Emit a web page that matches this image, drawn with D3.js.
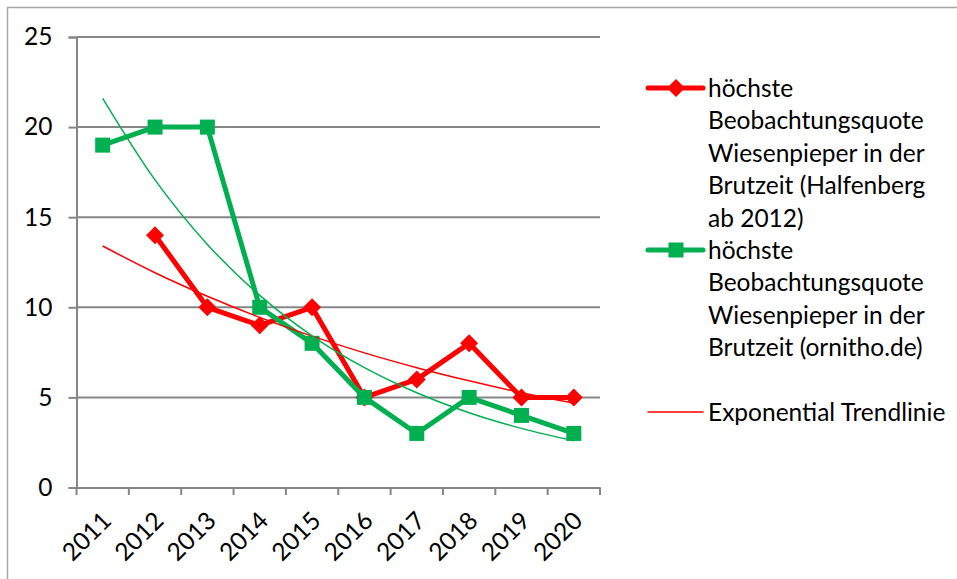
<!DOCTYPE html>
<html><head><meta charset="utf-8">
<script src="https://cdn.jsdelivr.net/npm/d3@7"></script>
<style>body{margin:0;background:#fff}svg{display:block}text{font-family:Lato,"Open Sans",sans-serif;fill:#000}</style>
</head><body><svg id="c" width="957" height="579"></svg>
<script>
const years = ["2011","2012","2013","2014","2015","2016","2017","2018","2019","2020"];
const halfenberg = [null,14,10,9,10,5,6,8,5,5];
const ornitho = [19,20,20,10,8,5,3,5,4,3];
// trendline values at each category
const trendHalfenberg = [13.4,11.92,10.61,9.44,8.40,7.47,6.65,5.92,5.26,4.68];
const trendOrnitho = [21.6,17.07,13.49,10.66,8.42,6.65,5.26,4.15,3.28,2.59];
const yTicks = [0,5,10,15,20,25];
const legendHalf = ["höchste","Beobachtungsquote","Wiesenpieper in der","Brutzeit (Halfenberg","ab 2012)"];
const legendOrn = ["höchste","Beobachtungsquote","Wiesenpieper in der","Brutzeit (ornitho.de)"];
const legendTrend = "Exponential Trendlinie";

const RED="#ff0000", GREEN="#00b050", GRID="#868686";
const svg = d3.select("#c");
svg.append("rect").attr("x",7.5).attr("y",7.5).attr("width",1200).attr("height",1200)
  .attr("fill","none").attr("stroke","#a6a6a6").attr("stroke-width",1.5);

const x = d3.scaleBand().domain(years).range([76.5,600]);
const y = d3.scaleLinear().domain([0,25]).range([487.5,37]);
const cx = d => x(d)+x.bandwidth()/2;

// gridlines
svg.append("g").selectAll("line").data(yTicks.filter(t=>t>0)).join("line")
  .attr("x1",76.5).attr("x2",600).attr("y1",d=>y(d)).attr("y2",d=>y(d))
  .attr("stroke",GRID).attr("stroke-width",2);

// y axis
const ya = svg.append("g").attr("transform","translate(76.5,0)")
  .call(d3.axisLeft(y).tickValues(yTicks).tickSize(8).tickPadding(16));
ya.select(".domain").attr("stroke",GRID).attr("stroke-width",2);
ya.selectAll(".tick line").attr("stroke",GRID).attr("stroke-width",2);
ya.selectAll("text").attr("font-size",24.5).attr("font-family","Lato,sans-serif").attr("fill","#000");

// x axis
const xa = svg.append("g").attr("transform","translate(0,487.5)")
  .call(d3.axisBottom(x).tickSize(0).tickFormat(""));
xa.select(".domain").attr("stroke",GRID).attr("stroke-width",2);
svg.append("g").selectAll("line").data(d3.range(years.length+1)).join("line")
  .attr("x1",i=>76.5+i*x.step()).attr("x2",i=>76.5+i*x.step())
  .attr("y1",487.5).attr("y2",495).attr("stroke",GRID).attr("stroke-width",2);
svg.append("g").selectAll("text").data(years).join("text")
  .attr("transform",d=>`translate(${cx(d)-2},${510}) rotate(-45)`)
  .attr("text-anchor","end").attr("dy","0.7em").attr("font-size",24.5).text(d=>d);

// series lines
const line = d3.line().defined(d=>d.v!=null).x(d=>cx(d.k)).y(d=>y(d.v));
const hData = years.map((k,i)=>({k,v:halfenberg[i]}));
const oData = years.map((k,i)=>({k,v:ornitho[i]}));
svg.append("path").datum(hData).attr("d",line).attr("fill","none").attr("stroke",RED)
  .attr("stroke-width",5).attr("stroke-linejoin","round");
svg.append("g").selectAll("path").data(hData.filter(d=>d.v!=null)).join("path")
  .attr("d","M0,-9L9,0L0,9L-9,0Z")
  .attr("transform",d=>`translate(${cx(d.k)},${y(d.v)})`).attr("fill",RED);
svg.append("path").datum(oData).attr("d",line).attr("fill","none").attr("stroke",GREEN)
  .attr("stroke-width",5).attr("stroke-linejoin","round");
svg.append("g").selectAll("rect").data(oData).join("rect")
  .attr("x",d=>cx(d.k)-7.5).attr("y",d=>y(d.v)-7.5).attr("width",15).attr("height",15)
  .attr("fill",GREEN);

// trendlines
const tline = d3.line().curve(d3.curveMonotoneX).x(d=>cx(d.k)).y(d=>y(d.v));
svg.append("path").datum(years.map((k,i)=>({k,v:trendHalfenberg[i]}))).attr("d",tline)
  .attr("fill","none").attr("stroke",RED).attr("stroke-width",1.5);
svg.append("path").datum(years.map((k,i)=>({k,v:trendOrnitho[i]}))).attr("d",tline)
  .attr("fill","none").attr("stroke",GREEN).attr("stroke-width",1.5);

// legend
const lg = svg.append("g");
function entry(yc, lines, color, kind){
  lg.append("line").attr("x1",648).attr("x2",703).attr("y1",yc).attr("y2",yc)
    .attr("stroke",color).attr("stroke-width",kind==="trend"?1.5:5).attr("stroke-linecap","round");
  if(kind==="diamond") lg.append("path").attr("d","M0,-9L9,0L0,9L-9,0Z")
    .attr("transform",`translate(676,${yc})`).attr("fill",color);
  if(kind==="square") lg.append("rect").attr("x",668.5).attr("y",yc-7.5).attr("width",15).attr("height",15).attr("fill",color);
  const t = lg.append("text").attr("x",708).attr("y",yc).attr("font-size",24.5);
  lines.forEach((s,i)=>t.append("tspan").attr("x",708).attr("dy",i===0?"0.35em":32.5).text(s));
}
entry(88, legendHalf, RED, "diamond");
entry(250, legendOrn, GREEN, "square");
entry(412, [legendTrend], RED, "trend");
</script></body></html>
